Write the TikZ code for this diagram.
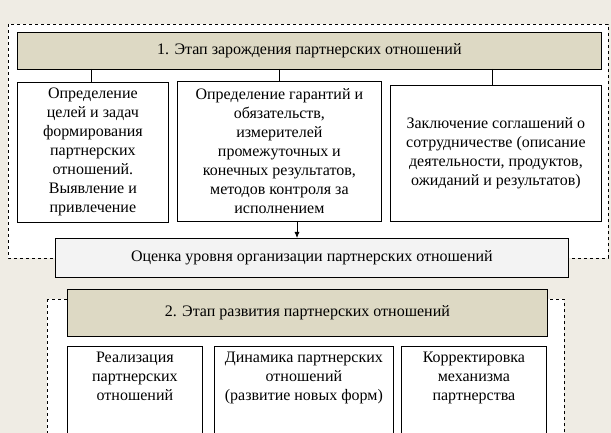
\documentclass[tikz,border=0pt]{standalone}
\usepackage{fontspec}
\usetikzlibrary{arrows.meta}
\setmainfont{Liberation Serif}
\definecolor{bgc}{RGB}{239,236,228}
\definecolor{khaki}{RGB}{221,217,196}
\definecolor{evalc}{RGB}{243,243,243}
\begin{document}
\begin{tikzpicture}[x=1pt,y=-1pt,
  box/.style={draw,line width=0.8pt,fill=white,align=center,inner sep=1pt,font=\fontsize{16}{19}\selectfont},
  txt/.style={align=center,inner sep=1pt,font=\fontsize{16}{19}\selectfont,anchor=north},
  dbox/.style={draw,dashed,line width=0.7pt,fill=white},
  conn/.style={line width=0.8pt}]
\useasboundingbox (0,0) rectangle (611,433);
\begin{scope}
\clip (0,0) rectangle (611,433);
\fill[bgc] (0,0) rectangle (611,433);
\draw[dbox] (8,24) rectangle (608,258);
\draw[dbox] (47,299) rectangle (564,440);
\node[box,fill=khaki,minimum width=584pt,minimum height=37pt,anchor=north west] (h1) at (17,32) {1. Этап зарождения партнерских отношений};
\node[box,minimum width=151pt,minimum height=140pt,anchor=north west] (a) at (17,82) {Определение\\целей и задач\\формирования\\партнерских\\отношений.\\Выявление и\\привлечение};
\node[box,minimum width=204pt,minimum height=140pt,anchor=north west] (b) at (177,81) {Определение гарантий и\\обязательств,\\измерителей\\промежуточных и\\конечных результатов,\\методов контроля за\\исполнением};
\node[box,minimum width=211pt,minimum height=136pt,anchor=north west] (c) at (390,85) {Заключение соглашений о\\сотрудничестве (описание\\деятельности, продуктов,\\ожиданий и результатов)};
\node[box,fill=evalc,minimum width=513pt,minimum height=39pt,anchor=north west] (e) at (55,238) {Оценка уровня организации партнерских отношений};
\node[box,fill=khaki,minimum width=480pt,minimum height=47pt,anchor=north west] (h2) at (67,289) {2. Этап развития партнерских отношений};
\node[box,minimum width=135pt,minimum height=95pt,anchor=north west] (d1) at (67,346) {};
\node[box,minimum width=179pt,minimum height=95pt,anchor=north west] (d2) at (214,346) {};
\node[box,minimum width=145pt,minimum height=95pt,anchor=north west] (d3) at (401,346) {};
\node[txt] at ([yshift=-5pt]d1.north) {Реализация\\партнерских\\отношений};
\node[txt] at ([yshift=-5pt]d2.north) {Динамика партнерских\\отношений\\(развитие новых форм)};
\node[txt] at ([yshift=-5pt]d3.north) {Корректировка\\механизма\\партнерства};
\draw[conn] (91,69) -- (a.north -| 91,0);
\draw[conn] (279,69) -- (b.north -| 279,0);
\draw[conn] (492,69) -- (c.north -| 492,0);
\draw[conn,-{Latex[length=6pt,width=5pt]}] (297,221) -- (297,238);
\end{scope}
\end{tikzpicture}
\end{document}
